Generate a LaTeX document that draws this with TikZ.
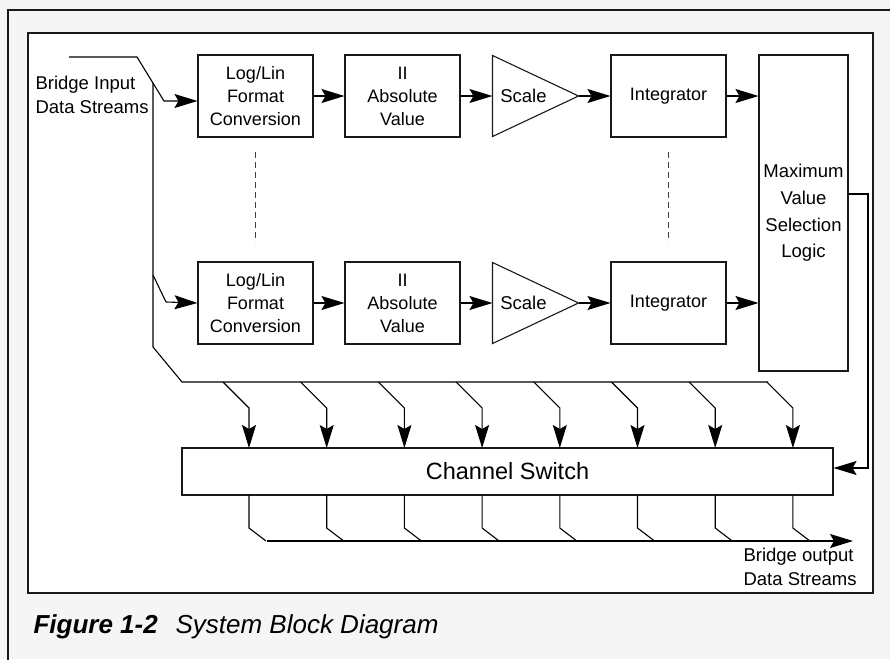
\documentclass[tikz,border=0pt]{standalone}
\usepackage{fontspec}
\setmainfont{Liberation Sans}
\usepackage{tikz}
\usetikzlibrary{arrows.meta}

\begin{document}
\begin{tikzpicture}[x=1pt, y=-1pt, line width=1.1pt,
    blk/.style={draw=black!90, fill=white, minimum width=115, minimum height=82,
        inner sep=1pt, align=center, font=\fontsize{18}{23}\selectfont},
    lbl/.style={inner sep=0pt, align=left, font=\fontsize{18.5}{24}\selectfont},
    arr/.style={-{Stealth[length=23pt, width=14pt, inset=4pt]}},
    dots/.style={black!75, line width=1.2pt, dash pattern=on 6pt off 4pt}]
    \useasboundingbox (0,0) rectangle (890,659);
    \fill[black!4] (0,0) rectangle (890,659);
    \draw[black!90] (8,670) -- (8,10) -- (900,10);
    \draw[black!90, fill=white] (28,33) rectangle (873,593);

    % two channels
    \foreach \y/\n in {96/1, 303/2} {
        \node[blk] (lg\n) at (255.5,\y) {Log/Lin\\Format\\Conversion};
        \node[blk] (ab\n) at (402.5,\y) {II\\Absolute\\Value};
        \node[minimum width=85, minimum height=80, inner sep=0pt] (sc\n) at (535.5,\y) {};
        \draw[black!90] (sc\n.north west) -- (sc\n.east) -- (sc\n.south west) -- cycle;
        \node[lbl] (st\n) at ([xshift=-12]sc\n.center) {Scale};
        \node[blk] (in\n) at (668.5,\y) {Integrator};
        \draw[arr] (lg\n.east) -- (ab\n.west);
        \draw[arr] (ab\n.east) -- (sc\n.west);
        \draw[arr] (sc\n.east) -- (in\n.west);
    }
    \draw[dots] (lg1.south) ++(0,14) -- ++(0,90);
    \draw[dots] (in1.south) ++(0,14) -- ++(0,90);

    \node[draw=black!90, minimum width=89, minimum height=316, align=center, inner sep=0pt,
        font=\fontsize{18.5}{26.7}\selectfont] (mx) at (803.5,213) {Maximum\\Value\\Selection\\Logic};
    \draw[arr] (in1.east) -- (in1.east -| mx.west);
    \draw[arr] (in2.east) -- (in2.east -| mx.west);

    \node[draw=black!90, minimum width=651, minimum height=47, inner sep=0pt,
        font=\fontsize{23.5}{28}\selectfont] (sw) at (507.5,471.5) {Channel Switch};
    \draw[arr] (mx.east |- 0,194) -- (868,194) -- (868,468) -- (sw.east |- 0,468);

    % inputs
    \node[lbl, anchor=west] (bin) at (35,95) {Bridge Input\\Data Streams};
    \draw[arr] (69,57) -- (137,57) -- (164,101) -- (lg1.west |- 0,101);
    \draw (153,83) -- (153,275) -- (166,302);
    \draw[arr] (166,302) -- (lg2.west);
    \draw (153,275) -- (153,347) -- (182,382) -- (768,382);

    \foreach \i in {0,...,7} {
        \pgfmathsetmacro{\x}{249+77.7*\i}
        \draw[arr] (\x-26,382) -- (\x,408) -- (\x,448);
        \draw (\x,495) -- (\x,528) -- (\x+17,541);
    }
    \draw[arr] (267,541) -- (853,541);
    \node[lbl, anchor=west] (bout) at (743,567) {Bridge output\\Data Streams};

    \node[inner sep=0pt, anchor=base west, font=\fontsize{26}{30}\selectfont\bfseries\itshape] (fig) at (33,633) {Figure 1-2};
    \node[inner sep=0pt, anchor=base west, font=\fontsize{26}{30}\selectfont\itshape] (cap) at (175,633) {System Block Diagram};
\end{tikzpicture}
\end{document}
